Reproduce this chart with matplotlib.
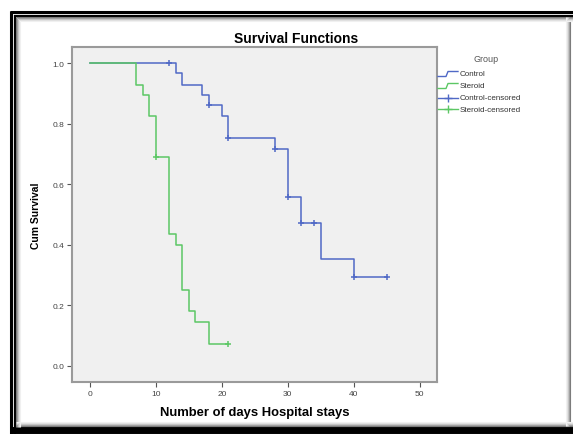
import matplotlib
matplotlib.use("Agg")
import matplotlib.pyplot as plt
from matplotlib.lines import Line2D

# Kaplan-Meier step values
control_t = [0, 13, 14, 17, 18, 20, 21, 28, 30, 32, 35, 40, 45]
control_s = [1.0, 0.967, 0.929, 0.896, 0.861, 0.824, 0.754, 0.717, 0.557, 0.471, 0.354, 0.293, 0.293]
control_cens_t = [12, 18, 21, 28, 30, 32, 34, 40, 45]
control_cens_s = [1.0, 0.861, 0.754, 0.717, 0.557, 0.471, 0.471, 0.293, 0.293]

steroid_t = [0, 7, 8, 9, 10, 12, 13, 14, 15, 16, 18, 21]
steroid_s = [1.0, 0.929, 0.893, 0.824, 0.690, 0.436, 0.400, 0.252, 0.182, 0.144, 0.073, 0.073]
steroid_cens_t = [10, 21]
steroid_cens_s = [0.690, 0.073]

x_ticks = [0, 10, 20, 30, 40, 50]
y_ticks = [0.0, 0.2, 0.4, 0.6, 0.8, 1.0]
groups = ["Control", "Steroid", "Control-censored", "Steroid-censored"]

BLUE = "#5069c6"
GREEN = "#5cc765"
W, H = 573, 435
FONT = "Liberation Sans"

fig = plt.figure(figsize=(W / 100, H / 100), dpi=100)


def fx(px):
    return px / W


def fy(py):
    return 1 - py / H


# black double frame around the picture, with a soft shadow inside
def fline(x0, y0, x1, y1, c="black", lw=1.0):
    fig.add_artist(Line2D([fx(x0), fx(x1)], [fy(y0), fy(y1)], color=c, lw=lw,
                          transform=fig.transFigure, solid_capstyle="butt"))


fline(10, 13, W, 13, lw=2.2)
fline(14, 16.5, W, 16.5, lw=1.6)
fline(11, 12, 11, 435, lw=2.2)
fline(14.5, 16, 14.5, 435, lw=1.6)
fline(10, 431, W, 431, lw=5)
for i, c in enumerate(["#7a7a7a", "#a0a0a0", "#c4c4c4", "#e0e0e0", "#f0f0f0"]):
    fline(16 + i, 18 + i, W, 18 + i, c=c, lw=0.8)
    fline(16 + i, 18 + i, 16 + i, 428, c=c, lw=0.8)
    fline(16, 427 - i, W, 427 - i, c=c, lw=0.8)
    fline(570 - i, 18, 570 - i, 427, c=c, lw=0.8)

ax = fig.add_axes([fx(72), fy(383), fx(437 - 72), (383 - 48) / H])
ax.set_facecolor("#f0f0f0")
for sp in ax.spines.values():
    sp.set_color("#9a9a9a")
    sp.set_linewidth(1.5)

ax.step(control_t, control_s, where="post", color=BLUE, lw=1.1)
ax.step(steroid_t, steroid_s, where="post", color=GREEN, lw=1.1)
ax.plot(control_cens_t, control_cens_s, "+", color=BLUE, ms=4, mew=1.1)
ax.plot(steroid_cens_t, steroid_cens_s, "+", color=GREEN, ms=4, mew=1.1)

ax.set_xlim(-2.7, 52.6)
ax.set_ylim(-0.053, 1.053)
ax.set_xticks(x_ticks)
ax.set_xticklabels([str(v) for v in x_ticks])
ax.set_yticks(y_ticks)
ax.set_yticklabels(["%.1f" % v for v in y_ticks])
ax.tick_params(axis="both", length=3.5, width=0.8, color="#555555",
               labelsize=6, labelcolor="#444444", pad=2)
for lab in ax.get_xticklabels() + ax.get_yticklabels():
    lab.set_family(FONT)

# SPSS centres the title over the whole chart, legend included
fig.text(fx(296), fy(39), "Survival Functions", fontsize=10,
         fontweight="bold", family=FONT, ha="center", va="center")
ax.set_xlabel("Number of days Hospital stays", fontsize=9.4,
              fontweight="bold", family=FONT, labelpad=7)
ax.set_ylabel("Cum Survival", fontsize=7.5, fontweight="bold", family=FONT,
              labelpad=8)

# SPSS style legend to the right of the plot
fig.text(fx(486), fy(60), "Group", fontsize=6.5, color="#555555", family=FONT,
         ha="center", va="center")
leg_y = [75, 87, 99, 110]
leg_c = [BLUE, GREEN, BLUE, GREEN]
for i, (name, yy, c) in enumerate(zip(groups, leg_y, leg_c)):
    if i < 2:
        xs = [438, 446, 448, 458]
        ys = [yy + 2.5, yy + 2.5, yy - 2.5, yy - 2.5]
        fig.add_artist(Line2D([fx(v) for v in xs], [fy(v) for v in ys],
                              color=c, lw=1.0, transform=fig.transFigure))
    else:
        fig.add_artist(Line2D([fx(438), fx(458)], [fy(yy), fy(yy)], color=c,
                              lw=1.0, transform=fig.transFigure))
        fig.add_artist(Line2D([fx(448)], [fy(yy)], color=c, marker="+",
                              ms=6, mew=1.0, transform=fig.transFigure))
    fig.text(fx(460), fy(yy), name, fontsize=5.8, color="#333333",
             family=FONT, ha="left", va="center")

fig.savefig("out.png", dpi=100, facecolor="white")
